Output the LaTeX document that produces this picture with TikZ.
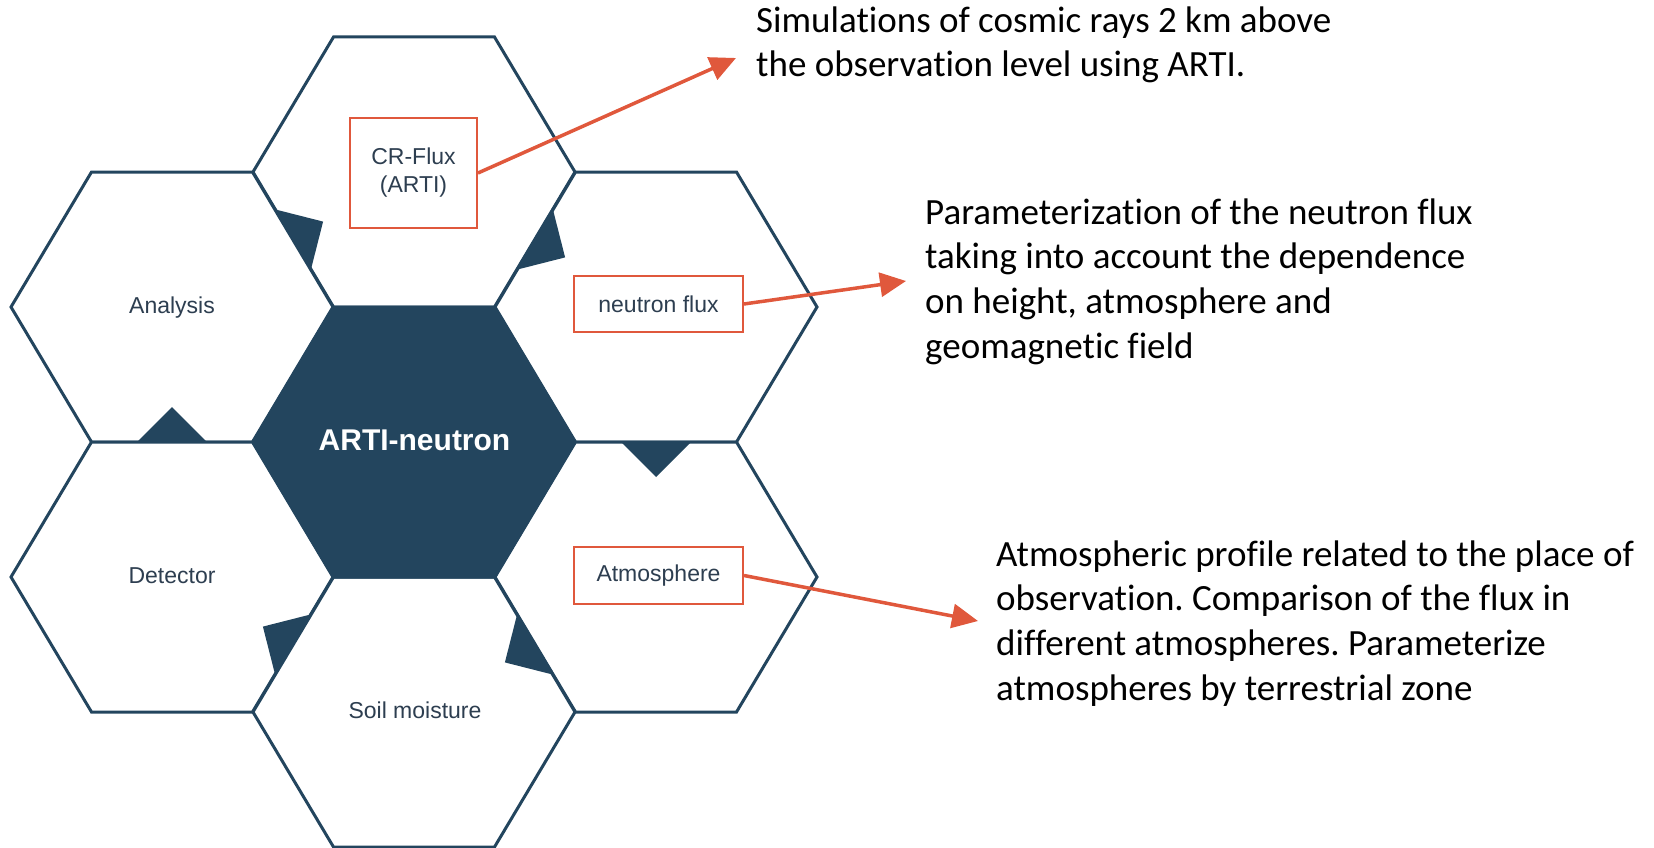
\documentclass[tikz,border=0pt]{standalone}
\usepackage{fontspec}
\setmainfont{Carlito}[Ligatures=NoCommon]
\newfontfamily\hexfont{Liberation Sans}
\usetikzlibrary{arrows.meta}
\frenchspacing

\definecolor{hexnavy}{RGB}{35,69,94}
\definecolor{hexred}{RGB}{224,88,60}
\definecolor{hexgrey}{RGB}{45,62,80}

\tikzset{
  hexcell/.style={draw=hexnavy, line width=3pt, line join=miter, fill=white},
  hexcore/.style={hexcell, fill=hexnavy},
  notch/.style={fill=hexnavy},
  hexlabel/.style={font=\hexfont\fontsize{23}{28}\selectfont, text=hexgrey, align=center, inner sep=0pt},
  redbox/.style={hexlabel, draw=hexred, line width=2pt},
  callout/.style={draw=hexred, line width=3.5pt, -{Triangle[length=26pt,width=24pt]}},
  note/.style={font=\fontsize{37}{44.6}\selectfont, align=left, inner sep=0pt, anchor=base west}
}

\begin{document}
\begin{tikzpicture}[x=1pt, y=-1pt]
\useasboundingbox (0,0) rectangle (1654,848);
\foreach \cx/\cy in {414/172, 172/307, 656/307, 172/577, 656/577, 414/712}
  \draw[hexcell, shift={(\cx,\cy)}] (-161,0) -- (-80.5,-135) -- (80.5,-135) -- (161,0) -- (80.5,135) -- (-80.5,135) -- cycle;
\draw[hexcore, shift={(414,442)}] (-161,0) -- (-80.5,-135) -- (80.5,-135) -- (161,0) -- (80.5,135) -- (-80.5,135) -- cycle;

\fill[notch] (275.1,209.4) -- (323.1,221.6) -- (310.9,269.6) -- cycle;
\fill[notch] (552.9,209.4) -- (565.1,257.4) -- (517.1,269.6) -- cycle;
\fill[notch] (621,442) -- (656,477) -- (691,442) -- cycle;
\fill[notch] (517.1,614.4) -- (504.9,662.4) -- (552.9,674.6) -- cycle;
\fill[notch] (310.9,614.4) -- (262.9,626.6) -- (275.1,674.6) -- cycle;
\fill[notch] (137,442) -- (172,407) -- (207,442) -- cycle;

\node[hexlabel, anchor=base, text=white, font=\hexfont\bfseries\fontsize{30}{36}\selectfont] (core) at (414.5,450) {ARTI-neutron};
\node[hexlabel, anchor=base] (analysis) at (172,313) {Analysis};
\node[hexlabel, anchor=base] (detector) at (172,583) {Detector};
\node[hexlabel, anchor=base] (soil) at (415,718) {Soil moisture};
\node[redbox, minimum width=127pt, minimum height=110pt] (crflux) at (413.5,173) {CR-Flux\\(ARTI)};
\node[redbox, minimum width=169pt, minimum height=56pt] (nflux) at (658.5,304) {neutron flux};
\node[redbox, minimum width=169pt, minimum height=57pt] (atmos) at (658.5,575.5) {Atmosphere};

\node[note] (crnote) at (756,77) {Simulations of cosmic rays 2 km above\\the observation level using ARTI.};
\node[note] (fluxnote) at (925,358) {Parameterization of the neutron flux\\taking into account the dependence\\on height, atmosphere and\\geomagnetic field};
\node[note] (atmnote) at (996,700) {Atmospheric profile related to the place of\\observation. Comparison of the flux in\\different atmospheres. Parameterize\\atmospheres by terrestrial zone};

\coordinate (crtip) at (736,58);
\coordinate (fluxtip) at (906,281);
\coordinate (atmtip) at (978,621);
\draw[callout] (crflux.east) -- (crtip);
\draw[callout] (nflux.east) -- (fluxtip);
\draw[callout] (atmos.east) -- (atmtip);
\end{tikzpicture}
\end{document}
